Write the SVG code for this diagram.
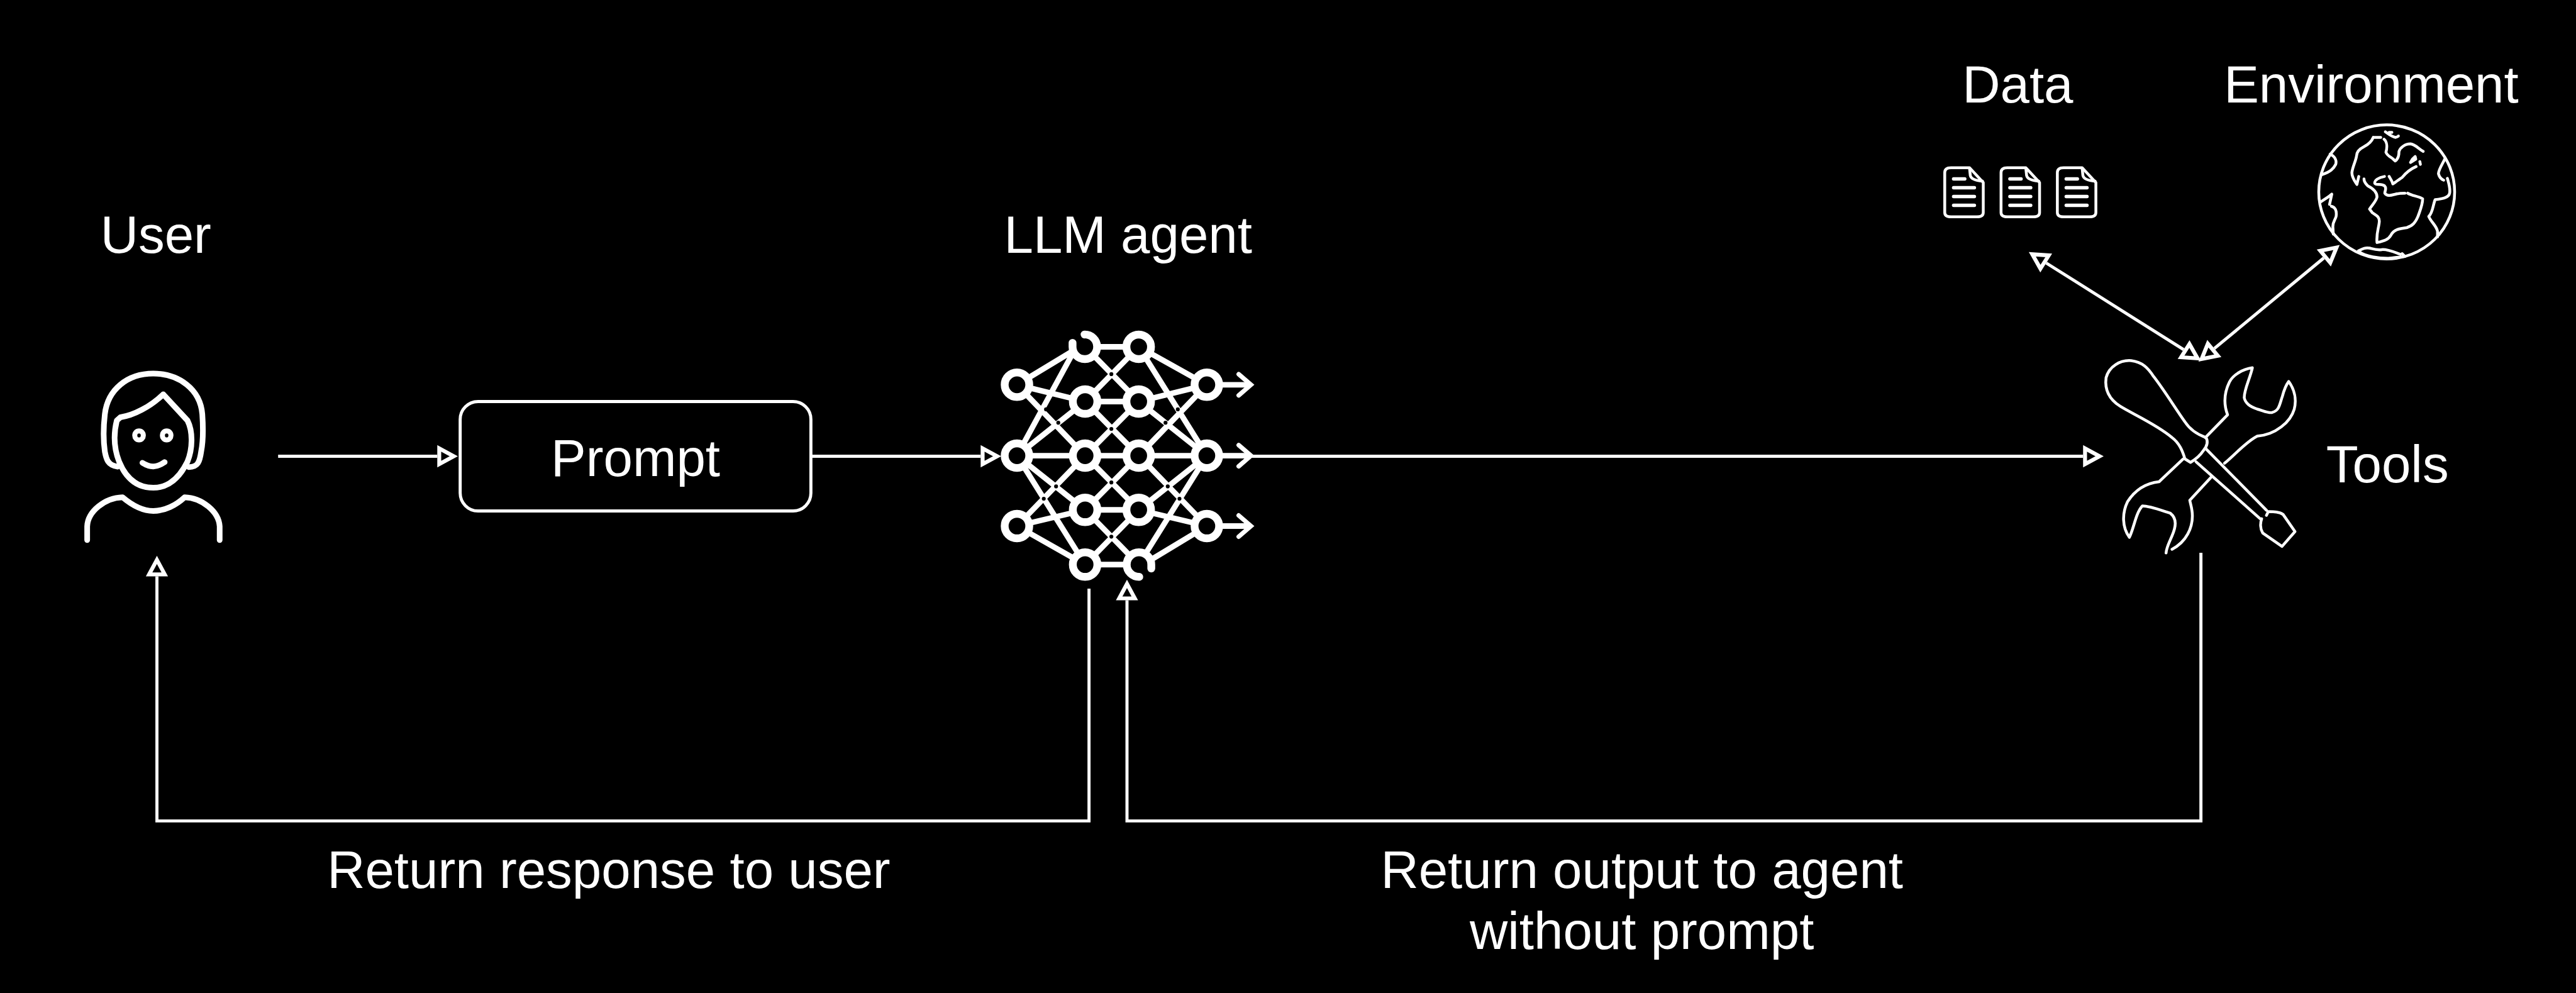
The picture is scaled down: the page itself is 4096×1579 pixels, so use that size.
<svg xmlns="http://www.w3.org/2000/svg" width="4096" height="1579" viewBox="0 0 4096 1579">
<style>
text{font-family:"Liberation Sans",Arial,sans-serif;font-size:94px;fill:#fff;text-anchor:middle}
.ln{fill:none;stroke:#fff;stroke-width:5.500;stroke-linejoin:miter}
.ic{fill:none;stroke:#fff;stroke-linecap:round;stroke-linejoin:round;vector-effect:non-scaling-stroke}
.u{stroke-width:9}.t{stroke-width:4.500}.g{stroke-width:4.500}.d{stroke-width:4.500}.dl{stroke-width:5.500}
.e{stroke:#fff;stroke-width:10;stroke-linecap:round;fill:none}
.c{stroke:#fff;stroke-width:8;stroke-linecap:round;stroke-linejoin:miter;fill:none}
.n{fill:#000;stroke:#fff;stroke-width:14}
.h{fill:#000}
</style>
<defs>
<marker id="ah" markerUnits="userSpaceOnUse" markerWidth="50" markerHeight="60" viewBox="-5 -30 50 60" refX="0" refY="0" orient="auto-start-reverse">
<path d="M3.500-14L29.500 0L3.500 14Z" fill="#000" stroke="#fff" stroke-width="7" stroke-linejoin="miter"/>
</marker>
<g id="doc">
<path class="ic d" d="M135 138L185 138L222 190L222 295Q222 310 205 310L135 310Q118 310 118 295L118 155Q118 138 135 138Z"/>
<path class="ic d" d="M185 140L187 165Q190 182 220 185"/>
<path class="ic dl" d="M142 177H172M142 208H198M142 239H198M142 270H198"/>
</g>
</defs>
<rect width="4096" height="1579" fill="#000"/>
<g transform="scale(0.888)">
<g id="connectors">
<path class="ln" d="M498 817H783" marker-end="url(#ah)"/>
<path class="ln" d="M1452 817H1756" marker-end="url(#ah)"/>
<path class="ln" d="M2240 817H3730" marker-end="url(#ah)"/>
<path class="ln" d="M1950 1054V1470H281V1032" marker-end="url(#ah)"/>
<path class="ln" d="M3941 990V1470H2018V1075" marker-end="url(#ah)"/>
<path class="ln" d="M3664 471L3910 626" marker-start="url(#ah)" marker-end="url(#ah)"/>
<path class="ln" d="M4161 462L3965 624" marker-start="url(#ah)" marker-end="url(#ah)"/>
</g>
<g id="user">
<text x="279" y="453">User</text>
<g transform="translate(101 340) scale(.5102 .4464)">
<path class="ic u" d="M215 1110C180 1105 175 1080 170 1050C165 1010 165 950 170 900C180 800 250 737 340 737C430 737 505 800 512 900C515 950 515 1010 508 1050C503 1090 497 1112 465 1112"/>
<path class="ic u" d="M225 912C270 905 330 870 375 820L460 925C480 970 478 1040 460 1090C430 1160 390 1195 340 1195C285 1195 245 1160 220 1090C203 1040 200 980 212 925Z"/>
<ellipse class="ic" style="stroke-width:8" cx="290" cy="985" rx="15" ry="18"/>
<ellipse class="ic" style="stroke-width:8" cx="387" cy="985" rx="15" ry="18"/>
<path class="ic u" d="M302 1095C330 1115 350 1115 380 1092"/>
<path class="ic u" d="M108 1405L108 1350C110 1290 170 1235 232 1233C265 1265 300 1288 340 1288C380 1288 420 1265 450 1233C510 1235 570 1290 573 1350L573 1405"/>
</g>
</g>
<g id="prompt">
<rect x="824" y="719" width="628" height="196" rx="32" fill="#000" stroke="#fff" stroke-width="5.500"/>
<text x="1138" y="852">Prompt</text>
</g>
<g id="llm-agent">
<text x="2020" y="453">LLM agent</text>
<path class="e" d="M1821 689L1922 628M1821 689L1943 719M1821 689L1943 816M1821 816L1925 625M1821 816L1943 719M1821 816H1943M1821 816L1943 913M1821 816L1943 1011M1821 942L1943 816M1821 942L1943 913M1821 942L1943 1011"/>
<path class="e" d="M1943 621H2039M1943 719H2039M1943 816H2039M1943 913H2039M1943 1011H2039M1943 621L2039 719M1943 719L2039 621M1943 719L2039 816M1943 816L2039 719M1943 816L2039 913M1943 913L2039 816M1943 913L2039 1011M1943 1011L2039 913"/>
<path class="e" d="M2161 689L2039 621M2161 689L2039 719M2161 689L2039 816M2161 816L2039 621M2161 816L2039 719M2161 816H2039M2161 816L2039 913M2161 816L2039 1011M2161 942L2039 816M2161 942L2039 913M2161 942L2060 1003"/>
<path class="e" d="M2161 689H2232M2161 816H2232M2161 942H2232"/>
<path class="c" d="M2218 670L2240 689L2218 708M2218 797L2240 816L2218 835M2218 923L2240 942L2218 961"/>
<circle class="h" cx="1990" cy="670" r="3.500"/><circle class="h" cx="1990" cy="768" r="3.500"/><circle class="h" cx="1990" cy="864" r="3.500"/><circle class="h" cx="1990" cy="961" r="3.500"/>
<circle class="h" cx="1895" cy="757" r="3.500"/><circle class="h" cx="1873" cy="733" r="3.500"/><circle class="h" cx="1891" cy="871" r="3.500"/><circle class="h" cx="1869" cy="893" r="3.500"/>
<circle class="h" cx="2087" cy="757" r="3.500"/><circle class="h" cx="2109" cy="733" r="3.500"/><circle class="h" cx="2091" cy="871" r="3.500"/><circle class="h" cx="2112" cy="893" r="3.500"/>
<circle class="n" cx="1821" cy="689" r="22"/><circle class="n" cx="1821" cy="816" r="22"/><circle class="n" cx="1821" cy="942" r="22"/>
<path class="n" stroke-linecap="round" stroke-linejoin="round" d="M1942 599A22 22 0 1 1 1920.500 621V614"/>
<circle class="n" cx="1943" cy="719" r="22"/><circle class="n" cx="1943" cy="816" r="22"/><circle class="n" cx="1943" cy="913" r="22"/><circle class="n" cx="1943" cy="1011" r="22"/>
<circle class="n" cx="2039" cy="621" r="22"/><circle class="n" cx="2039" cy="719" r="22"/><circle class="n" cx="2039" cy="816" r="22"/><circle class="n" cx="2039" cy="913" r="22"/>
<path class="n" stroke-linecap="round" stroke-linejoin="round" d="M2040 1033A22 22 0 1 1 2061.500 1011V1018"/>
<circle class="n" cx="2161" cy="689" r="22"/><circle class="n" cx="2161" cy="816" r="22"/><circle class="n" cx="2161" cy="942" r="22"/>
</g>
<g id="tools">
<text x="4275" y="864">Tools</text>
<g transform="translate(3405 230) scale(.6633 .5102)">
<path class="ic t" d="M780 1172L765 1160C758 1130 750 1105 730 1085C690 1040 620 1000 590 975C560 950 548 915 552 875C560 835 590 812 620 815C650 820 665 840 680 870C710 920 740 985 765 1030C780 1060 800 1075 822 1085C828 1100 825 1115 815 1130C805 1150 795 1160 780 1172Z"/>
<path class="ic t" d="M822 1125L985 1340M795 1170L968 1370M985 1358L990 1345C1005 1345 1020 1345 1030 1355L1062 1415L1027 1467L975 1420C968 1405 968 1385 972 1370"/>
<path class="ic t" d="M820 1085L880 1005C870 970 870 930 885 890C895 865 920 845 947 840C940 880 925 915 925 945C928 965 940 975 960 985C975 990 990 1000 1000 997C1020 990 1020 970 1028 940C1032 920 1038 900 1045 888C1060 915 1067 950 1060 985C1050 1030 1010 1075 960 1080C930 1100 900 1145 872 1175"/>
<path class="ic t" d="M760 1160L695 1240C660 1245 630 1270 610 1310C595 1350 595 1400 615 1435C628 1400 632 1350 650 1325C670 1325 700 1340 725 1350C745 1370 740 1400 730 1430C722 1455 715 1470 714 1490M730 1477C770 1450 785 1400 785 1360C785 1335 780 1320 778 1305L835 1225"/>
</g>
</g>
<g id="data">
<text x="3613" y="184">Data</text>
<g transform="translate(3404 230) scale(.6633 .5102)">
<use href="#doc"/><use href="#doc" x="152"/><use href="#doc" x="304"/>
</g>
</g>
<g id="environment">
<text x="4246" y="184">Environment</text>
<g transform="translate(4133 211) scale(.3333)">
<ellipse class="ic g" cx="422" cy="398" rx="365" ry="360"/>
<path class="ic g" d="M118 195C140 205 155 225 148 250C135 275 120 290 75 305M415 75C430 85 445 100 470 105C480 102 485 100 485 98M435 78H450M350 105H390M350 105C340 130 320 145 300 155C270 170 260 185 260 205C255 235 238 265 235 295C235 320 250 340 262 358L272 315M408 115C425 130 425 160 418 185C425 205 445 210 455 220L468 232C485 220 488 200 488 180C495 160 520 140 550 140C580 145 590 165 618 180M600 235L603 250M560 222L575 208L578 222L550 240ZM580 262C550 275 530 290 505 320C490 330 470 345 455 355C450 335 440 325 435 315M410 315C380 320 355 335 358 352C365 365 390 350 410 365C425 380 410 395 412 405C425 425 450 415 470 410C490 405 505 405 520 405M535 405C560 420 590 420 615 435C615 470 600 500 590 530C575 565 560 580 530 590C490 595 460 600 445 630C430 655 410 660 370 670C365 620 380 590 382 560C385 530 365 525 345 510L330 490C345 465 365 450 370 425C370 395 340 375 320 365C305 350 300 340 300 328"/>
<path class="ic g" d="M70 450C90 435 110 425 127 410L115 465M125 475C145 480 155 500 150 530C145 550 130 560 133 590L135 625M735 220C720 250 700 280 700 300C705 320 715 330 728 335M748 325C755 350 765 380 760 405C755 430 720 435 682 440C670 470 670 510 648 530C660 560 690 580 695 610V640M270 715C290 705 305 695 330 700C350 705 370 712 395 708C425 705 460 720 495 733M275 720C310 745 380 755 430 755C460 752 490 748 520 745L505 730"/>
</g>
</g>
<g id="labels">
<text x="1090" y="1590">Return response to user</text>
<text x="2940" y="1590">Return output to agent</text>
<text x="2940" y="1699">without prompt</text>
</g>
</g>
</svg>
